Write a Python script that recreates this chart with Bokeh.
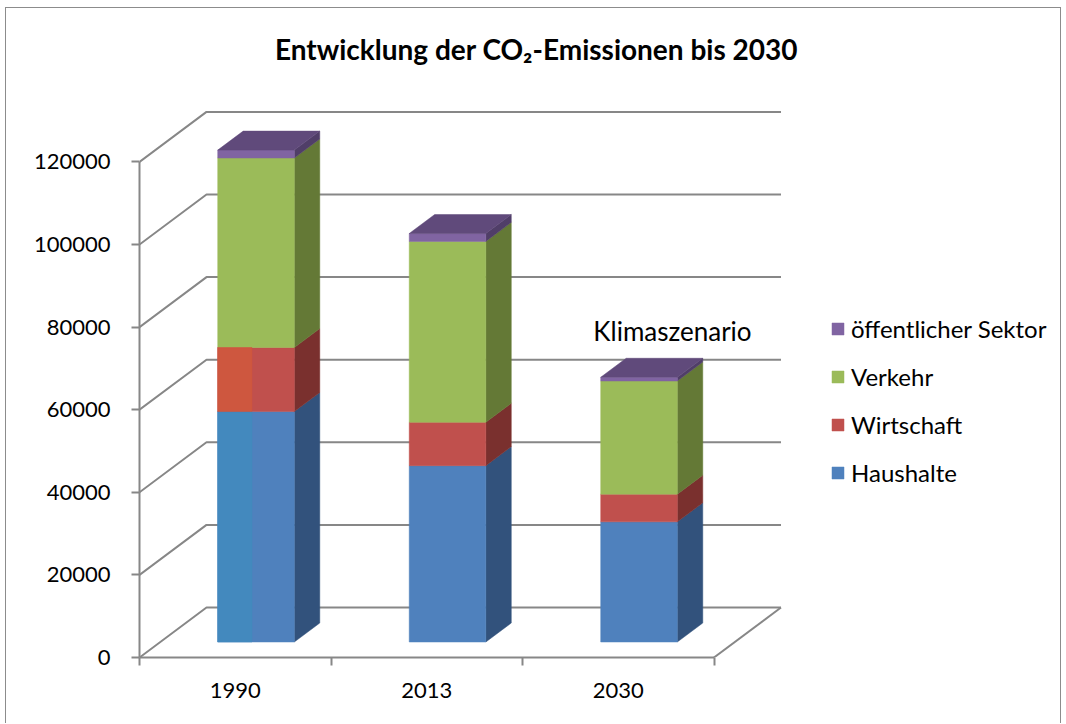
import numpy as np
from bokeh.plotting import figure
from bokeh.models import (LinearAxis, FixedTicker, Range1d,
                          Legend, LegendItem, PrintfTickFormatter)
from bokeh.core.properties import value
from bokeh.embed import file_html
from bokeh.resources import INLINE

# ---------------- data ----------------
years = ["1990", "2013", "2030"]
haushalte = [55800, 42700, 29100]
wirtschaft = [15500, 10500, 6700]
verkehr = [45900, 43800, 27400]
oeffentlich = [1900, 1900, 900]
series_names = ["Haushalte", "Wirtschaft", "Verkehr", "öffentlicher Sektor"]
y_ticks = [0, 20000, 40000, 60000, 80000, 100000, 120000]
title_text = "Entwicklung der CO₂-Emissionen bis 2030"
scenario_label = "Klimaszenario"

# ---------------- style ----------------
FONT = "Lato"
GRID = "#878787"
front_colors = ["#4F81BD", "#C0504D", "#9BBB59", "#8064A2"]
side_colors = ["#32527C", "#7A302E", "#647936", "#503E68"]
top_color = "#604A7B"
hl_colors = ["#4389BE", "#CE573F"]

W, H = 1056, 716
ML, MB = 133, 67      # left / bottom borders of the frame
PX_X = 191.5          # pixels per category
PX_Y = 0.00413        # pixels per unit value
DX = 67 / PX_X        # depth offset (x, data units)
DY = 50 / PX_Y        # depth offset (y, data units)
D1, D2 = 0.31, 0.69   # bar depth start / end
HALF = 0.2            # half bar width
FRAME_W, FRAME_H = W - ML, H - MB

p = figure(width=W, height=H, output_backend="svg", toolbar_location=None,
           x_range=Range1d(0, FRAME_W / PX_X), y_range=Range1d(0, FRAME_H / PX_Y),
           x_axis_type=None, y_axis_type=None,
           min_border_left=ML, min_border_right=0, min_border_top=0,
           min_border_bottom=MB)
p.outline_line_color = None
p.background_fill_color = "white"
p.border_fill_color = "white"
p.styles = {"margin-left": "5px", "margin-top": "7px",
            "border-left": "1px solid #8c8c8c", "border-top": "1px solid #8c8c8c",
            "border-right": "1px solid #8c8c8c"}

n = len(years)
# ---------------- walls / gridlines ----------------
gx = [[0, DX, n + DX] for v in y_ticks]
gy = [[v, v + DY, v + DY] for v in y_ticks]
gx.append([n, n + DX])
gy.append([0, DY])
p.multi_line(xs=gx, ys=gy, line_color=GRID, line_width=2)

# ---------------- axes ----------------
yaxis = LinearAxis(ticker=FixedTicker(ticks=y_ticks), bounds=(0, max(y_ticks)),
                   formatter=PrintfTickFormatter(format="%d"),
                   axis_line_color=GRID, axis_line_width=2,
                   major_tick_line_color=GRID, major_tick_line_width=2,
                   major_tick_out=8, major_tick_in=0,
                   minor_tick_line_color=None,
                   major_label_text_font=FONT, major_label_text_font_size="22px",
                   major_label_text_color="black", major_label_standoff=21)
p.add_layout(yaxis, "left")

centers = [i + 0.5 for i in range(n)]
xaxis = LinearAxis(ticker=FixedTicker(ticks=centers, minor_ticks=list(range(n + 1))),
                   bounds=(0, n),
                   major_label_overrides={c: y for c, y in zip(centers, years)},
                   axis_line_color=GRID, axis_line_width=2,
                   major_tick_line_color=None, major_tick_out=0, major_tick_in=0,
                   minor_tick_line_color=GRID, minor_tick_line_width=2,
                   minor_tick_out=8, minor_tick_in=0,
                   major_label_text_font=FONT, major_label_text_font_size="22px",
                   major_label_text_color="black", major_label_standoff=17)
p.add_layout(xaxis, "below")

# ---------------- bars ----------------
stack = np.array([haushalte, wirtschaft, verkehr, oeffentlich], dtype=float)
tops = np.cumsum(stack, axis=0)
bottoms = tops - stack
c = np.array(centers)
xfl = c - HALF + D1 * DX
xfr = c + HALF + D1 * DX
xbr = c + HALF + D2 * DX
xbl = c - HALF + D2 * DX
oy1, oy2 = D1 * DY, D2 * DY

front_renderers = []
for s in range(len(series_names)):
    b = bottoms[s]
    t = tops[s]
    sx = [[xfr[i], xbr[i], xbr[i], xfr[i]] for i in range(n)]
    sy = [[b[i] + oy1, b[i] + oy2, t[i] + oy2, t[i] + oy1] for i in range(n)]
    p.patches(xs=sx, ys=sy, fill_color=side_colors[s], line_color=side_colors[s], line_width=0.5)
    r = p.quad(left=xfl, right=xfr, bottom=b + oy1, top=t + oy1,
               fill_color=front_colors[s], line_color=front_colors[s], line_width=0.5)
    front_renderers.append(r)

# 1990 highlighted part of the front face (as in the reference)
for s in range(2):
    p.quad(left=[xfl[0]], right=[xfl[0] + 0.179], bottom=[bottoms[s][0] + oy1],
           top=[tops[s][0] + oy1], fill_color=hl_colors[s], line_color=hl_colors[s], line_width=0.5)

# top face of each column
t = tops[-1]
tx = [[xfl[i], xfr[i], xbr[i], xbl[i]] for i in range(n)]
ty = [[t[i] + oy1, t[i] + oy1, t[i] + oy2, t[i] + oy2] for i in range(n)]
p.patches(xs=tx, ys=ty, fill_color=top_color, line_color=top_color, line_width=0.5)

# ---------------- texts ----------------
# page coordinates: frame left = 139, frame bottom = 657
p.text(x=[(536 - 139) / PX_X], y=[(657 - 48) / PX_Y], text=[title_text],
       text_font=value(FONT), text_font_style="bold", text_font_size="28px",
       text_align="center", text_baseline="middle", text_color="black")
p.text(x=[centers[2] + 0.283], y=[(657 - 330) / PX_Y], text=[scenario_label],
       text_font=value(FONT), text_font_size="26px",
       text_align="center", text_baseline="middle", text_color="black")

# ---------------- legend ----------------
items = [LegendItem(label=series_names[s], renderers=[front_renderers[s]])
         for s in reversed(range(len(series_names)))]
legend = Legend(items=items, location=(691, 170), orientation="vertical",
                border_line_color=None, background_fill_alpha=0,
                padding=0, margin=0, spacing=19,
                glyph_width=15, glyph_height=15, label_height=29,
                label_standoff=6, label_text_font=FONT, label_text_font_size="24px",
                label_text_baseline="middle", label_text_color="black")
p.add_layout(legend)

open("out.html", "w").write(file_html(p, INLINE))
